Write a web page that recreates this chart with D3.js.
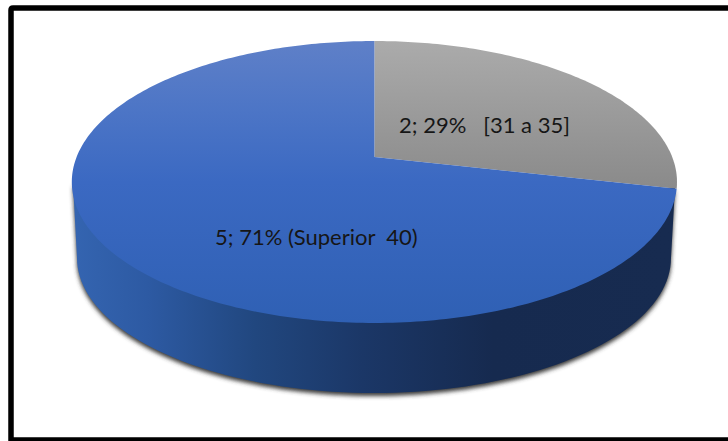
<!DOCTYPE html>
<html>
<head>
<meta charset="utf-8">
<script src="https://cdn.jsdelivr.net/npm/d3@7/dist/d3.min.js"></script>
<style>
  html, body { margin: 0; padding: 0; background: #fff; overflow: hidden; }
  svg { display: block; }
  text { font-family: Lato, "Open Sans", sans-serif; fill: #161616; white-space: pre; }
</style>
</head>
<body>
<svg id="chart" width="728" height="441"></svg>
<script>
// Age brackets, respondent counts and the text that follows each data label
const categories = ["[31 a 35]", "Superior 40"];
const counts = [2, 5];
const labelSuffixes = ["   [31 a 35]", " (Superior  40)"];
const sliceFills = ["url(#greyFace)", "url(#blueFace)"];

const svg = d3.select("#chart");
const W = 728, H = 441;

// Tilted disc: a unit circle seen in perspective, so the centre sits above the ellipse middle
const tilt = -0.1773;
const yScale = d3.scaleLinear().domain([0, 1]).range([157, 265.7]);
const xScale = d3.scaleLinear().domain([0, 1]).range([0, 297.8]);
const centreX = 374.4;
const project = (a) => {
  const ux = Math.sin(a), uy = -Math.cos(a);
  const d = 1 + tilt * uy;
  return [centreX + xScale(ux) / d, yScale(uy) / d];
};

const defs = svg.append("defs");
const gradient = (id, vertical, stops, box) => {
  const g = defs.append("linearGradient").attr("id", id).attr("gradientUnits", "userSpaceOnUse");
  if (vertical) g.attr("x1", 0).attr("x2", 0).attr("y1", box[0]).attr("y2", box[1]);
  else g.attr("y1", 0).attr("y2", 0).attr("x1", box[0]).attr("x2", box[1]);
  stops.forEach(([o, c]) => g.append("stop").attr("offset", o).attr("stop-color", c));
};
gradient("blueFace", true, [[0, "#5f80c8"], [0.25, "#4c75c6"], [0.5, "#3b69c2"], [1, "#2f60b4"]], [41, 323]);
gradient("greyFace", true, [[0, "#ababab"], [1, "#8a8a8a"]], [41, 188]);
gradient("wallFill", false, [[0, "#3464b0"], [0.12, "#2d5aa3"], [0.3, "#21477f"], [0.48, "#1b3767"], [0.7, "#162a4f"], [1, "#172b50"]], [76, 672]);

defs.append("filter").attr("id", "soft")
  .attr("x", "-5%").attr("y", "-5%").attr("width", "110%").attr("height", "110%")
  .append("feGaussianBlur").attr("stdDeviation", 2.2);

const line = d3.line();

// Lower rim of the disc, from its left extreme round the bottom to the right extreme
const rim = { cx: 374, cy: 258, rx: 297, ry: 135 };
const wallPoints = [[73, 184]]
  .concat(d3.range(0, 181, 2).map((t) => {
    const a = Math.PI - (t * Math.PI) / 180;
    return [rim.cx + rim.rx * Math.cos(a), rim.cy + rim.ry * Math.sin(a)];
  }))
  .concat([[675, 188]]);

svg.append("path")
  .attr("d", line(wallPoints) + "Z")
  .attr("transform", "translate(0,3)")
  .attr("fill", "#3a3a3a")
  .attr("filter", "url(#soft)");

svg.append("path")
  .attr("d", line(wallPoints) + "Z")
  .attr("fill", "url(#wallFill)");

// Top face slices, clockwise from twelve o'clock
const arcs = d3.pie().sort(null).value((d) => d)(counts);
const total = d3.sum(counts);

svg.selectAll("path.slice")
  .data(arcs)
  .join("path")
  .attr("class", "slice")
  .attr("fill", (d, i) => sliceFills[i])
  .attr("d", (d) => {
    const n = Math.ceil((d.endAngle - d.startAngle) * 60);
    const pts = d3.range(n + 1).map((k) => project(d.startAngle + ((d.endAngle - d.startAngle) * k) / n));
    return line([[centreX, yScale(0)], ...pts]) + "Z";
  });

// Data labels
const labelAnchors = [[399, 132.5], [215, 244.5]];
svg.selectAll("text.label")
  .data(arcs)
  .join("text")
  .attr("class", "label")
  .attr("x", (d, i) => labelAnchors[i][0])
  .attr("y", (d, i) => labelAnchors[i][1])
  .attr("font-size", 22)
  .text((d, i) => `${d.value}; ${Math.round((d.value / total) * 100)}%${labelSuffixes[i]}`);

// Heavy frame; its right side runs off the page
svg.append("path")
  .attr("d", `M${W + 10},8 H13 Q11,8 11,10 V440 H${W + 10}`)
  .attr("fill", "none")
  .attr("stroke", "#000")
  .attr("stroke-width", 5.5);
</script>
</body>
</html>
